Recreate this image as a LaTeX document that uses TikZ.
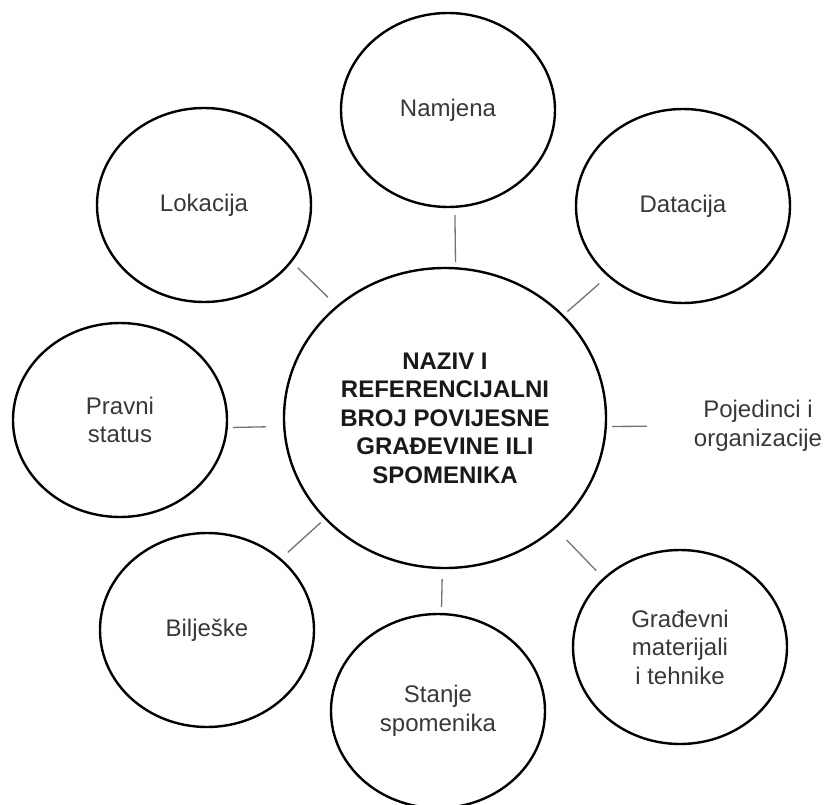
\documentclass[tikz,border=0pt]{standalone}
\usepackage{fontspec}
\setmainfont{Liberation Sans}
\usetikzlibrary{shapes.geometric}
\tikzset{
  bubble/.style={ellipse, draw, line width=2.4pt, minimum width=214pt, minimum height=194pt,
    inner sep=0pt, align=center, text=black!78, font=\fontsize{24}{28.5}\selectfont},
  hub/.style={bubble, minimum width=322pt, minimum height=300pt, text=black!90,
    font=\fontsize{24}{28.5}\selectfont\bfseries},
  link/.style={draw=black!55, line width=1.3pt}
}
\begin{document}
\begin{tikzpicture}[x=1pt,y=-1pt]
  \useasboundingbox (0,0) rectangle (827,805);
  \node[hub] (hub) at (445,418) {NAZIV I\\REFERENCIJALNI\\BROJ POVIJESNE\\GRAĐEVINE ILI\\SPOMENIKA}; % centre
  \foreach \name/\px/\py/\txt in {nam/448/110/Namjena, dat/683/206/Datacija, lok/204/205/Lokacija,
      pra/120/420/{Pravni\\status}, bil/207/630/Bilješke, sta/438/711/{Stanje\\spomenika},
      gra/680/647/{Građevni\\materijali\\ i tehnike}}  % outer bubbles
    \node[bubble] (\name) at (\px,\py) {\txt};
  \node[align=center, inner sep=0pt, text=black!78, font=\fontsize{24}{28.5}\selectfont]
    (poj) at (758,426) {Pojedinci i\\organizacije}; % no bubble here
  \foreach \from/\to/\there/\s/\e in {86/nam/-86/5/7, 41/dat/-137/5/11, 134/lok/-33/12/8,
      183/pra/-4/17/5, 220/bil/44/5/9, 269/sta/88/10/6, -45/gra/138/16/10}  % connectors
    \draw[link, shorten <=\s pt, shorten >=\e pt] (hub.\from) -- (\to.\there);
  \draw[link, shorten <=5pt, shorten >=47pt] (hub.-3) -- (poj.west);
\end{tikzpicture}
\end{document}
